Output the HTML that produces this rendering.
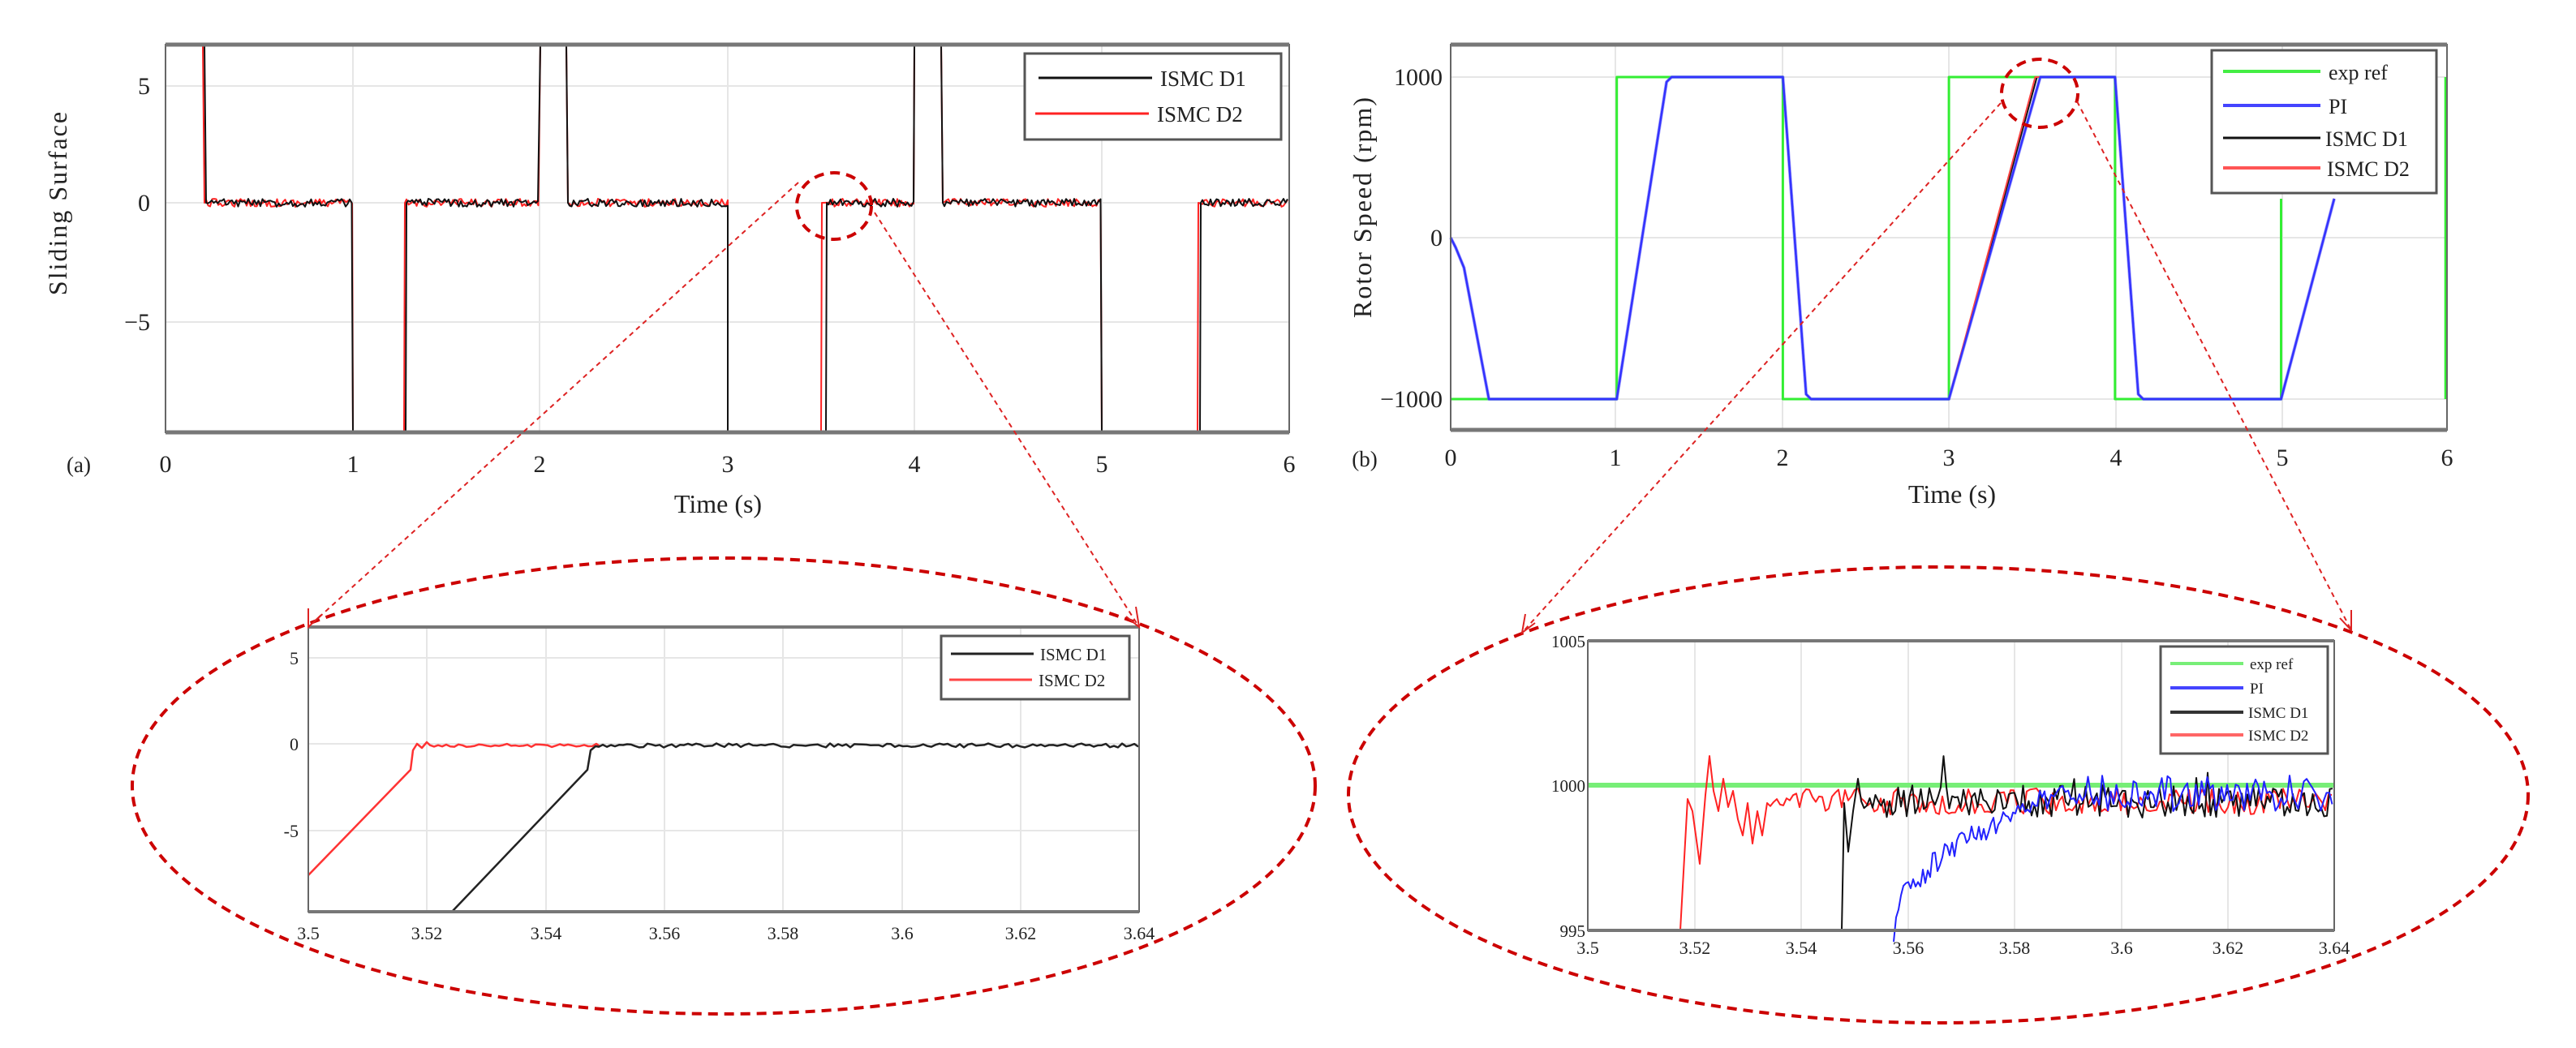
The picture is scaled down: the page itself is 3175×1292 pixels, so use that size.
<!DOCTYPE html>
<html><head><meta charset="utf-8">
<style>
html,body{margin:0;padding:0;background:#fff;}
svg{display:block;}
text{font-family:"Liberation Serif",serif;fill:#222;}
</style></head>
<body>
<svg id="s" width="3175" height="1292" viewBox="0 0 3175 1292" xmlns="http://www.w3.org/2000/svg">
<rect width="3175" height="1292" fill="#fff"/>
<!-- ============ Plot A ============ -->
<g stroke="#e6e6e6" stroke-width="2">
<line x1="435" y1="55" x2="435" y2="533"/><line x1="665" y1="55" x2="665" y2="533"/><line x1="897" y1="55" x2="897" y2="533"/><line x1="1127" y1="55" x2="1127" y2="533"/><line x1="1358" y1="55" x2="1358" y2="533"/>
<line x1="204" y1="106" x2="1589" y2="106"/><line x1="204" y1="250" x2="1589" y2="250"/><line x1="204" y1="397" x2="1589" y2="397"/>
</g>
<g id="pa"></g>
<rect x="204" y="55" width="1385" height="478" fill="none" stroke="#666" stroke-width="2"/>
<line x1="204" y1="55" x2="1589" y2="55" stroke="#777" stroke-width="5"/>
<line x1="204" y1="533" x2="1589" y2="533" stroke="#777" stroke-width="5"/>
<g font-size="30" text-anchor="middle">
<text x="204" y="582">0</text><text x="435" y="582">1</text><text x="665" y="582">2</text><text x="897" y="582">3</text><text x="1127" y="582">4</text><text x="1358" y="582">5</text><text x="1589" y="582">6</text>
<text x="885" y="632" font-size="32">Time (s)</text>
</g>
<g font-size="30" text-anchor="end">
<text x="185" y="116">5</text><text x="185" y="260">0</text><text x="185" y="407">−5</text>
</g>
<text x="97" y="582" font-family="Liberation Sans" font-size="27" text-anchor="middle">(a)</text>
<text transform="translate(82,250) rotate(-90)" font-size="32" text-anchor="middle" letter-spacing="2">Sliding Surface</text>
<rect x="1263" y="66" width="316" height="106" fill="#fff" stroke="#555" stroke-width="3"/>
<line x1="1280" y1="96" x2="1420" y2="96" stroke="#111" stroke-width="3"/>
<line x1="1276" y1="140" x2="1416" y2="140" stroke="#f22" stroke-width="3"/>
<g font-size="27"><text x="1430" y="106">ISMC D1</text><text x="1426" y="150">ISMC D2</text></g>

<!-- ============ Plot B ============ -->
<g stroke="#e6e6e6" stroke-width="2">
<line x1="1991" y1="55" x2="1991" y2="530"/><line x1="2197" y1="55" x2="2197" y2="530"/><line x1="2402" y1="55" x2="2402" y2="530"/><line x1="2608" y1="55" x2="2608" y2="530"/><line x1="2813" y1="55" x2="2813" y2="530"/>
<line x1="1788" y1="95" x2="3016" y2="95"/><line x1="1788" y1="293" x2="3016" y2="293"/><line x1="1788" y1="492" x2="3016" y2="492"/>
</g>
<g id="pb"></g>
<rect x="1788" y="55" width="1228" height="475" fill="none" stroke="#666" stroke-width="2"/>
<line x1="1788" y1="55" x2="3016" y2="55" stroke="#777" stroke-width="5"/>
<line x1="1788" y1="530" x2="3016" y2="530" stroke="#777" stroke-width="5"/>
<g font-size="30" text-anchor="middle">
<text x="1788" y="574">0</text><text x="1991" y="574">1</text><text x="2197" y="574">2</text><text x="2402" y="574">3</text><text x="2608" y="574">4</text><text x="2813" y="574">5</text><text x="3016" y="574">6</text>
<text x="2406" y="620" font-size="32">Time (s)</text>
</g>
<g font-size="30" text-anchor="end">
<text x="1778" y="105">1000</text><text x="1778" y="303">0</text><text x="1778" y="502">−1000</text>
</g>
<text x="1682" y="575" font-family="Liberation Sans" font-size="27" text-anchor="middle">(b)</text>
<text transform="translate(1690,255) rotate(-90)" font-size="32" text-anchor="middle" letter-spacing="2">Rotor Speed (rpm)</text>
<rect x="2726" y="62" width="277" height="176" fill="#fff" stroke="#555" stroke-width="3"/>
<line x1="2740" y1="88" x2="2860" y2="88" stroke="#4e4" stroke-width="4"/>
<line x1="2740" y1="130" x2="2860" y2="130" stroke="#44f" stroke-width="4"/>
<line x1="2740" y1="170" x2="2860" y2="170" stroke="#111" stroke-width="3"/>
<line x1="2740" y1="207" x2="2860" y2="207" stroke="#f55" stroke-width="4"/>
<g font-size="26"><text x="2870" y="98">exp ref</text><text x="2870" y="140">PI</text><text x="2866" y="180">ISMC D1</text><text x="2868" y="217">ISMC D2</text></g>

<!-- ============ Inset A ============ -->
<g stroke="#e6e6e6" stroke-width="2">
<line x1="526" y1="773" x2="526" y2="1124"/><line x1="673" y1="773" x2="673" y2="1124"/><line x1="819" y1="773" x2="819" y2="1124"/><line x1="965" y1="773" x2="965" y2="1124"/><line x1="1112" y1="773" x2="1112" y2="1124"/><line x1="1258" y1="773" x2="1258" y2="1124"/>
<line x1="380" y1="811" x2="1404" y2="811"/><line x1="380" y1="917" x2="1404" y2="917"/><line x1="380" y1="1024" x2="1404" y2="1024"/>
</g>
<g id="ia"></g>
<rect x="380" y="773" width="1024" height="351" fill="none" stroke="#666" stroke-width="2"/>
<line x1="380" y1="773" x2="1404" y2="773" stroke="#777" stroke-width="4"/>
<line x1="380" y1="1124" x2="1404" y2="1124" stroke="#777" stroke-width="4"/>
<g font-size="22" text-anchor="middle">
<text x="380" y="1158">3.5</text><text x="526" y="1158">3.52</text><text x="673" y="1158">3.54</text><text x="819" y="1158">3.56</text><text x="965" y="1158">3.58</text><text x="1112" y="1158">3.6</text><text x="1258" y="1158">3.62</text><text x="1404" y="1158">3.64</text>
</g>
<g font-size="22" text-anchor="end"><text x="368" y="819">5</text><text x="368" y="925">0</text><text x="368" y="1032">-5</text></g>
<rect x="1160" y="784" width="232" height="78" fill="#fff" stroke="#555" stroke-width="3"/>
<line x1="1172" y1="806" x2="1274" y2="806" stroke="#222" stroke-width="3"/>
<line x1="1170" y1="838" x2="1272" y2="838" stroke="#f44" stroke-width="3"/>
<g font-size="21"><text x="1282" y="814">ISMC D1</text><text x="1280" y="846">ISMC D2</text></g>

<!-- ============ Inset B ============ -->
<g stroke="#e6e6e6" stroke-width="2">
<line x1="2089" y1="790" x2="2089" y2="1147"/><line x1="2220" y1="790" x2="2220" y2="1147"/><line x1="2352" y1="790" x2="2352" y2="1147"/><line x1="2483" y1="790" x2="2483" y2="1147"/><line x1="2615" y1="790" x2="2615" y2="1147"/><line x1="2746" y1="790" x2="2746" y2="1147"/>
</g>
<line x1="1957" y1="968" x2="2877" y2="968" stroke="#7e7" stroke-width="6"/>
<g id="ib"></g>
<rect x="1957" y="790" width="920" height="357" fill="none" stroke="#666" stroke-width="2"/>
<line x1="1957" y1="790" x2="2877" y2="790" stroke="#777" stroke-width="4"/>
<line x1="1957" y1="1147" x2="2877" y2="1147" stroke="#777" stroke-width="4"/>
<g font-size="22" text-anchor="middle">
<text x="1957" y="1176">3.5</text><text x="2089" y="1176">3.52</text><text x="2220" y="1176">3.54</text><text x="2352" y="1176">3.56</text><text x="2483" y="1176">3.58</text><text x="2615" y="1176">3.6</text><text x="2746" y="1176">3.62</text><text x="2877" y="1176">3.64</text>
</g>
<g font-size="21" text-anchor="end"><text x="1954" y="798">1005</text><text x="1954" y="976">1000</text><text x="1954" y="1155">995</text></g>
<rect x="2663" y="797" width="206" height="132" fill="#fff" stroke="#555" stroke-width="3"/>
<line x1="2675" y1="818" x2="2765" y2="818" stroke="#7e7" stroke-width="4"/>
<line x1="2675" y1="848" x2="2765" y2="848" stroke="#44f" stroke-width="4"/>
<line x1="2675" y1="878" x2="2765" y2="878" stroke="#333" stroke-width="4"/>
<line x1="2675" y1="906" x2="2765" y2="906" stroke="#f66" stroke-width="4"/>
<g font-size="19"><text x="2773" y="825">exp ref</text><text x="2773" y="855">PI</text><text x="2771" y="885">ISMC D1</text><text x="2771" y="913">ISMC D2</text></g>

<!-- ============ Zoom annotations ============ -->
<g fill="none" stroke="#c00" stroke-width="4" stroke-dasharray="12,8">
<ellipse cx="892" cy="969" rx="729" ry="281"/>
<ellipse cx="2389" cy="980" rx="727" ry="281"/>
<ellipse cx="1028" cy="254" rx="46" ry="41"/>
<ellipse cx="2514" cy="115" rx="47" ry="42"/>
</g>
<g fill="none" stroke="#d22" stroke-width="2" stroke-dasharray="6,5">
<line x1="984" y1="225" x2="380" y2="773"/>
<line x1="1078" y1="262" x2="1404" y2="773"/>
<line x1="2466" y1="127" x2="1876" y2="780"/>
<line x1="2560" y1="125" x2="2898" y2="777"/>
</g>
<g fill="none" stroke="#d22" stroke-width="2">
<polyline points="380,750 380,773 396,758"/>
<polyline points="1400,748 1404,773 1388,760"/>
<polyline points="1880,757 1876,780 1892,768"/>
<polyline points="2898,752 2898,777 2884,762"/>
</g>
</svg>
<script>
(function(){
var s=12345;function r(){s=(s*16807)%2147483647;return s/2147483647;}
function P(pts,c,w,par){var p=document.createElementNS("http://www.w3.org/2000/svg","polyline");p.setAttribute("points",pts.map(function(a){return a[0].toFixed(1)+","+a[1].toFixed(1)}).join(" "));p.setAttribute("fill","none");p.setAttribute("stroke",c);p.setAttribute("stroke-width",w);p.setAttribute("stroke-linejoin","round");document.getElementById(par).appendChild(p);}
function noise(x1,x2,y,amp,step){var a=[];for(var x=x1;x<=x2;x+=step)a.push([x,y+(r()-0.5)*2*amp]);return a;}
function noiseS(x1,x2,y,amp,step,sp,spAmp){var a=[];for(var x=x1;x<=x2;x+=step){var v=y+(r()-0.5)*2*amp;if(r()<sp)v-=spAmp*r();a.push([x,v]);}return a;}
// Plot A
function segA(col,w,off){
 var T=55,B=533,Z=250;
 P([[252+off,T],[254+off,Z]].concat(noise(256+off,435,Z,5,2.5)).concat([[435,B]]),col,w,"pa");
 P([[500+off,B],[501+off,Z]].concat(noise(503+off,665,Z,5,2.5)).concat([[666,T]]),col,w,"pa");
 P([[698,T],[700,Z]].concat(noise(702,897,Z,5,2.5)).concat([[897,B]]),col,w,"pa");
 P([[(off<0?1012:1018),B],[(off<0?1013:1019),Z]].concat(noise(1021,1127,Z,5,2.5)).concat([[1127,T]]),col,w,"pa");
 P([[1160,T],[1162,Z]].concat(noise(1164,1358,Z,5,2.5)).concat([[1358,B]]),col,w,"pa");
 P([[(off<0?1476:1479),B],[(off<0?1477:1480),Z]].concat(noise(1482,1589,Z,5,2.5)),col,w,"pa");
}
segA("#f22",2,-2);segA("#111",2,0);
// Plot B
function X(t){return 1788+204.7*t;}var H=95,L=492;
P([[X(0),L],[X(1),L],[X(1),H],[X(2),H],[X(2),L],[X(3),L],[X(3),H],[X(4),H],[X(4),L],[X(5),L],[X(5),245]],"#3e3",3,"pb");
P([[X(5.99),H],[X(5.99),L]],"#3e3",3,"pb");
function sp(col,w,r3){P([[X(0),293],[X(0.03),305],[X(0.08),330],[X(0.23),L],[X(1),L],[X(1.3),H+6],[X(1.33),H],[X(2),H],[X(2.14),L-6],[X(2.17),L],[X(3),L],[X(r3),H],[X(4),H],[X(4.14),L-6],[X(4.17),L],[X(5),L],[X(5.32),245]],col,w,"pb");}
sp("rgba(100,100,255,0.6)",4,3.55);sp("#111",2,3.53);sp("#f44",2,3.52);sp("#33f",2.5,3.55);
// Inset A
P([[380,1079],[506,949],[509,925],[514,917],[520,922],[526,915]].concat(noise(530,740,919,2,5)),"#f33",2.5,"ia");
P([[557,1124],[724,949],[728,925],[734,920]].concat(noise(738,1404,919,2.5,5)),"#222",2.5,"ia");
// Inset B
var red=[[2071,1147],[2080,985],[2086,1000],[2095,1065],[2102,980],[2107,932],[2112,975],[2118,1000],[2124,960],[2130,995],[2136,975],[2142,1010],[2148,1030],[2154,990],[2160,1040],[2166,1000],[2172,1030],[2178,990]];
red=red.concat(noiseS(2182,2877,988,16,4,0,0));
var blk=[[2270,1147],[2273,990],[2278,1050],[2284,1000],[2290,960]].concat(noiseS(2294,2877,988,20,3.5,0.04,40));
var blu=[];for(var x=2334;x<=2525;x+=3){var f=(x-2334)/191;blu.push([x,1147-(1147-985)*Math.sqrt(f)+(r()-0.5)*30]);}
blu=blu.concat(noise(2528,2877,978,22,3.5));
P(red,"#f22",2,"ib");P(blk,"#111",2,"ib");P(blu,"#22f",2,"ib");
})();
</script>
</body></html>
